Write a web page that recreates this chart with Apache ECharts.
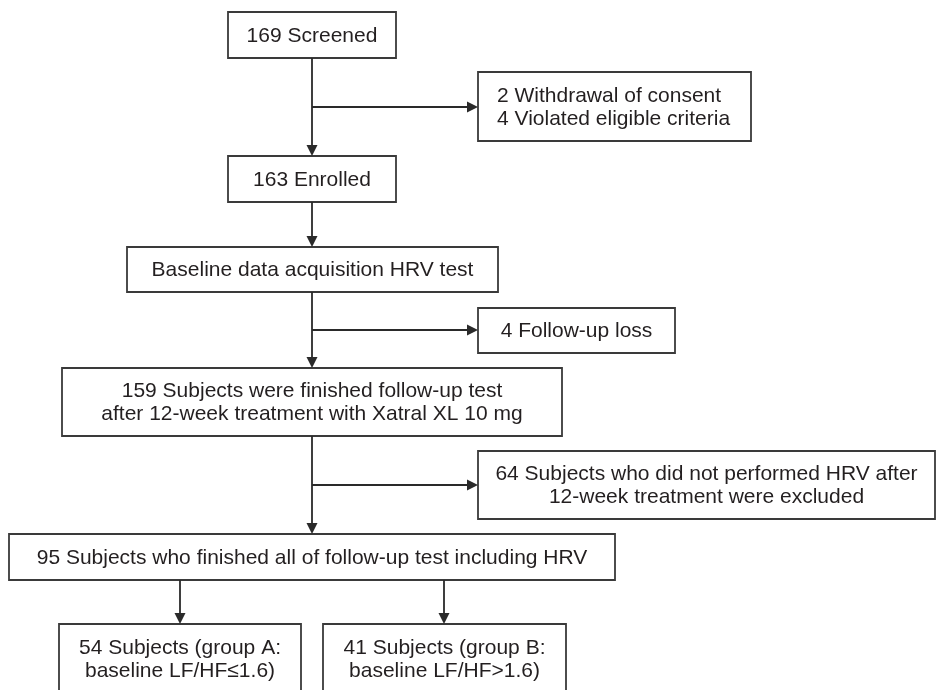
<!DOCTYPE html>
<html>
<head>
<meta charset="utf-8">
<script src="https://cdn.jsdelivr.net/npm/echarts@6/dist/echarts.min.js"></script>
<style>
  html, body { margin: 0; padding: 0; background: #fff; }
  #flow { width: 937px; height: 690px; }
</style>
</head>
<body>
<div id="flow"></div>
<script>
'use strict';

// box texts (one entry per box)
var boxTexts = [
    '169 Screened',
    '2 Withdrawal of consent\n4 Violated eligible criteria',
    '163 Enrolled',
    'Baseline data acquisition HRV test',
    '4 Follow-up loss',
    '159 Subjects were finished follow-up test\nafter 12-week treatment with Xatral XL 10 mg',
    '64 Subjects who did not performed HRV after\n12-week treatment were excluded',
    '95 Subjects who finished all of follow-up test including HRV',
    '54 Subjects (group A:\nbaseline LF/HF\u22641.6)',
    '41 Subjects (group B:\nbaseline LF/HF>1.6)'
];
var boxAlign = ['center', 'left', 'center', 'center', 'center', 'center', 'center', 'center', 'center', 'center'];

// box extents in chart units: [left, top, right, bottom]
var boxRects = [
    [228, 12, 396, 58],
    [478, 72, 751, 141],
    [228, 156, 396, 202],
    [127, 247, 498, 292],
    [478, 308, 675, 353],
    [62, 368, 562, 436],
    [478, 451, 935, 519],
    [9, 534, 615, 580],
    [59, 624, 301, 702],
    [323, 624, 566, 702]
];

// connectors: [x0, y0, x1, y1], each ends in an arrow head at (x1, y1)
var arrows = [
    [312, 58, 312, 156],
    [312, 107, 478, 107],
    [312, 202, 312, 247],
    [312, 292, 312, 368],
    [312, 330, 478, 330],
    [312, 436, 312, 534],
    [312, 485, 478, 485],
    [180, 580, 180, 624],
    [444, 580, 444, 624]
];

var ink = '#231f20';
var lineInk = '#2a2a2a';

var chart = echarts.init(document.getElementById('flow'));

function renderBox(params, api) {
    var i = api.value(4);
    var p0 = api.coord([api.value(0), api.value(1)]);
    var p1 = api.coord([api.value(2), api.value(3)]);
    var left = Math.min(p0[0], p1[0]);
    var top = Math.min(p0[1], p1[1]);
    var w = Math.abs(p1[0] - p0[0]);
    var h = Math.abs(p1[1] - p0[1]);
    var isLeft = boxAlign[i] === 'left';
    // bottom two boxes are cut by the image edge; centre text on visible part
    var cy = top + 1 + (i >= 8 ? 35 : h / 2);
    return {
        type: 'group',
        children: [
            {
                type: 'rect',
                shape: { x: left, y: top, width: w, height: h },
                style: { fill: '#fff', stroke: '#3a3a3a', lineWidth: 1.8 }
            },
            {
                type: 'text',
                style: {
                    text: boxTexts[i],
                    x: isLeft ? left + 19 : left + w / 2,
                    y: cy,
                    align: isLeft ? 'left' : 'center',
                    verticalAlign: 'middle',
                    fontFamily: '"Liberation Sans", Arial, sans-serif',
                    fontSize: 21,
                    lineHeight: 23,
                    fill: ink
                }
            }
        ]
    };
}

function renderArrow(params, api) {
    var a = api.coord([api.value(0), api.value(1)]);
    var b = api.coord([api.value(2), api.value(3)]);
    var dx = b[0] - a[0], dy = b[1] - a[1];
    var len = Math.sqrt(dx * dx + dy * dy) || 1;
    var ux = dx / len, uy = dy / len;
    var headLen = 11, headHalf = 5.5;
    var base = [b[0] - ux * headLen, b[1] - uy * headLen];
    return {
        type: 'group',
        children: [
            {
                type: 'line',
                shape: { x1: a[0], y1: a[1], x2: base[0], y2: base[1] },
                style: { stroke: lineInk, lineWidth: 1.8 }
            },
            {
                type: 'polygon',
                shape: {
                    points: [
                        [b[0], b[1]],
                        [base[0] - uy * headHalf, base[1] + ux * headHalf],
                        [base[0] + uy * headHalf, base[1] - ux * headHalf]
                    ]
                },
                style: { fill: lineInk }
            }
        ]
    };
}

var option = {
    animation: false,
    backgroundColor: '#fff',
    grid: { left: 0, right: 0, top: 0, bottom: 0 },
    xAxis: { type: 'value', min: 0, max: 937, show: false },
    yAxis: { type: 'value', min: 0, max: 690, inverse: true, show: false },
    series: [
        {
            type: 'custom',
            coordinateSystem: 'cartesian2d',
            clip: false,
            silent: true,
            renderItem: renderBox,
            data: boxRects.map(function (r, i) {
                return [r[0], r[1], r[2], r[3], i];
            }),
            z: 2
        },
        {
            type: 'custom',
            coordinateSystem: 'cartesian2d',
            clip: false,
            silent: true,
            renderItem: renderArrow,
            data: arrows,
            z: 3
        }
    ]
};

chart.setOption(option);
</script>
</body>
</html>
